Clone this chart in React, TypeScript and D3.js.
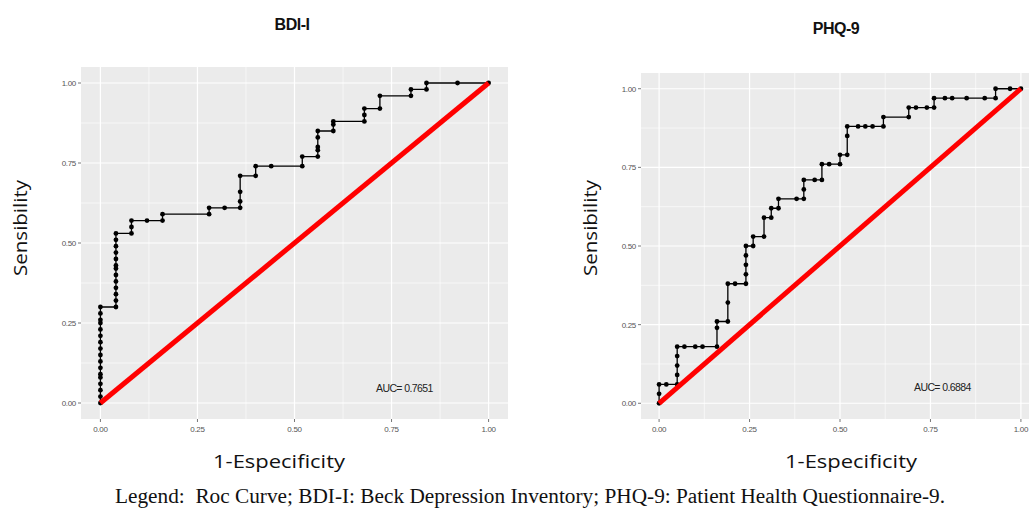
import React from "react";
import * as d3 from "d3";

// BDI-I ROC points (1 - specificity, sensitivity)
const bdiFpr = [0, 0, 0, 0, 0, 0, 0, 0, 0, 0, 0, 0, 0, 0, 0, 0, 0,
  0.04, 0.04, 0.04, 0.04, 0.04, 0.04, 0.04, 0.04, 0.04, 0.04, 0.04, 0.04, 0.04,
  0.08, 0.08, 0.08, 0.12, 0.16, 0.16, 0.28, 0.28, 0.32, 0.36, 0.36, 0.36, 0.36,
  0.40, 0.40, 0.44, 0.52, 0.52, 0.56, 0.56, 0.56, 0.56, 0.56, 0.60, 0.60, 0.60,
  0.68, 0.68, 0.68, 0.72, 0.72, 0.80, 0.80, 0.84, 0.84, 0.92, 1.0];
const bdiTpr = [0, 0.02, 0.04, 0.06, 0.08, 0.09, 0.11, 0.13, 0.15, 0.17, 0.19, 0.21, 0.23, 0.25, 0.26, 0.28, 0.30,
  0.30, 0.32, 0.34, 0.36, 0.38, 0.40, 0.42, 0.43, 0.45, 0.47, 0.49, 0.51, 0.53,
  0.53, 0.55, 0.57, 0.57, 0.57, 0.59, 0.59, 0.61, 0.61, 0.61, 0.63, 0.66, 0.71,
  0.71, 0.74, 0.74, 0.74, 0.77, 0.77, 0.79, 0.80, 0.83, 0.85, 0.85, 0.87, 0.88,
  0.88, 0.90, 0.92, 0.92, 0.96, 0.96, 0.98, 0.98, 1.0, 1.0, 1.0];

// PHQ-9 ROC points
const phqFpr = [0, 0, 0, 0.02, 0.05, 0.05, 0.05, 0.05, 0.05, 0.07, 0.10, 0.12, 0.16, 0.16, 0.16,
  0.19, 0.19, 0.19, 0.21, 0.24, 0.24, 0.24, 0.24, 0.24, 0.26, 0.26, 0.29, 0.29, 0.31, 0.31,
  0.33, 0.33, 0.38, 0.40, 0.40, 0.40, 0.43, 0.45, 0.45, 0.47, 0.50, 0.50, 0.52, 0.52, 0.52,
  0.55, 0.57, 0.59, 0.62, 0.62, 0.69, 0.69, 0.71, 0.74, 0.76, 0.76, 0.79, 0.81, 0.85, 0.90,
  0.93, 0.93, 0.97, 1.0];
const phqTpr = [0, 0.03, 0.06, 0.06, 0.06, 0.09, 0.12, 0.15, 0.18, 0.18, 0.18, 0.18, 0.18, 0.24, 0.26,
  0.26, 0.32, 0.38, 0.38, 0.38, 0.41, 0.44, 0.47, 0.50, 0.50, 0.53, 0.53, 0.59, 0.59, 0.62,
  0.62, 0.65, 0.65, 0.65, 0.68, 0.71, 0.71, 0.71, 0.76, 0.76, 0.76, 0.79, 0.79, 0.85, 0.88,
  0.88, 0.88, 0.88, 0.88, 0.91, 0.91, 0.94, 0.94, 0.94, 0.94, 0.97, 0.97, 0.97, 0.97, 0.97,
  0.97, 1.0, 1.0, 1.0];

const tickValues = [0, 0.25, 0.5, 0.75, 1];
const tickLabels = ["0.00", "0.25", "0.50", "0.75", "1.00"];
const minorValues = [0.125, 0.375, 0.625, 0.875];

const titles = ["BDI-I", "PHQ-9"];
const aucLabels = ["AUC= 0.7651", "AUC= 0.6884"];
const xTitle = "1-Especificity";
const yTitle = "Sensibility";
const legendText = "Legend:  Roc Curve; BDI-I: Beck Depression Inventory; PHQ-9: Patient Health Questionnaire-9.";

type PanelProps = {
  fpr: number[];
  tpr: number[];
  title: string;
  auc: string;
  x0: number; x1: number; y0: number; y1: number;
  titleX: number; titleY: number;
  yTitleX: number; yTitleY: number;
  xTitleX: number;
  aucX: number; aucY: number;
};

const labelFont = "'Open Sans', 'Noto Sans', sans-serif";

function Panel(p: PanelProps) {
  const x = d3.scaleLinear().domain([-0.05, 1.05]).range([p.x0, p.x1]);
  const y = d3.scaleLinear().domain([-0.05, 1.05]).range([p.y1, p.y0]);
  const pts: [number, number][] = p.fpr.map((f, i) => [f, p.tpr[i]]);
  const line = d3.line<[number, number]>().x(d => x(d[0])).y(d => y(d[1]));
  const clipId = "clip-" + p.title.replace(/[^a-z0-9]/gi, "");
  const tickFont = "'Liberation Sans Narrow', 'Liberation Sans', Arial, sans-serif";
  return (
    <g>
      <defs>
        <clipPath id={clipId}>
          <rect x={p.x0} y={p.y0} width={p.x1 - p.x0} height={p.y1 - p.y0} />
        </clipPath>
      </defs>
      <rect x={p.x0} y={p.y0} width={p.x1 - p.x0} height={p.y1 - p.y0} fill="#EBEBEB" />
      <g clipPath={`url(#${clipId})`}>
        {minorValues.map(v => (
          <g key={"m" + v}>
            <line x1={x(v)} x2={x(v)} y1={p.y0} y2={p.y1} stroke="#fff" strokeWidth={0.6} />
            <line x1={p.x0} x2={p.x1} y1={y(v)} y2={y(v)} stroke="#fff" strokeWidth={0.6} />
          </g>
        ))}
        {tickValues.map(v => (
          <g key={"M" + v}>
            <line x1={x(v)} x2={x(v)} y1={p.y0} y2={p.y1} stroke="#fff" strokeWidth={1.2} />
            <line x1={p.x0} x2={p.x1} y1={y(v)} y2={y(v)} stroke="#fff" strokeWidth={1.2} />
          </g>
        ))}
        <path d={line(pts) || ""} fill="none" stroke="#000" strokeWidth={1.3} />
        {pts.map((d, i) => (
          <circle key={i} cx={x(d[0])} cy={y(d[1])} r={2.4} fill="#000" />
        ))}
        <line x1={x(0)} y1={y(0)} x2={x(1)} y2={y(1)} stroke="#FF0000" strokeWidth={5} strokeLinecap="butt" />
      </g>
      {tickValues.map((v, i) => (
        <g key={"t" + v}>
          <line x1={p.x0 - 3} x2={p.x0} y1={y(v)} y2={y(v)} stroke="#555" strokeWidth={0.8} />
          <text x={p.x0 - 5} y={y(v) + 3} textAnchor="end" fontSize={8} fill="#555"
            fontFamily={tickFont} letterSpacing={-0.3}>{tickLabels[i]}</text>
          <line x1={x(v)} x2={x(v)} y1={p.y1} y2={p.y1 + 3} stroke="#555" strokeWidth={0.8} />
          <text x={x(v)} y={p.y1 + 13} textAnchor="middle" fontSize={8} fill="#555"
            fontFamily={tickFont} letterSpacing={-0.3}>{tickLabels[i]}</text>
        </g>
      ))}
      <text x={p.aucX} y={p.aucY} fontSize={10.5} fill="#222" fontFamily={tickFont} letterSpacing={-0.6}>{p.auc}</text>
      <text x={p.titleX} y={p.titleY} textAnchor="middle" fontSize={16} fontWeight="bold" fill="#111"
        fontFamily={tickFont} letterSpacing={-0.5}>{p.title}</text>
      <text x={p.xTitleX} y={468} textAnchor="middle" fontSize={19} fill="#111"
        fontFamily={labelFont} textLength={132} lengthAdjust="spacingAndGlyphs">{xTitle}</text>
      <text transform={`translate(${p.yTitleX},${p.yTitleY}) rotate(-90)`} textAnchor="middle"
        fontSize={19} fill="#111" fontFamily={labelFont} textLength={96}
        lengthAdjust="spacingAndGlyphs">{yTitle}</text>
    </g>
  );
}

export default function App() {
  return (
    <div style={{ position: "fixed", left: 0, top: 0 }}>
      <svg width={1029} height={510} style={{ display: "block", background: "#fff" }}>
        <Panel fpr={bdiFpr} tpr={bdiTpr} title={titles[0]} auc={aucLabels[0]}
          x0={81} x1={508} y0={67} y1={419}
          titleX={292} titleY={30} yTitleX={27} yTitleY={228} xTitleX={279}
          aucX={376} aucY={392} />
        <Panel fpr={phqFpr} tpr={phqTpr} title={titles[1]} auc={aucLabels[1]}
          x0={641} x1={1039} y0={73} y1={419}
          titleX={836} titleY={34} yTitleX={597} yTitleY={228} xTitleX={851}
          aucX={914} aucY={391} />
        <text x={530} y={503} textAnchor="middle" fontSize={20} fill="#111"
          fontFamily="'Liberation Serif', 'Times New Roman', serif" style={{ whiteSpace: "pre" }}
          textLength={830} lengthAdjust="spacingAndGlyphs">{legendText}</text>
      </svg>
    </div>
  );
}
